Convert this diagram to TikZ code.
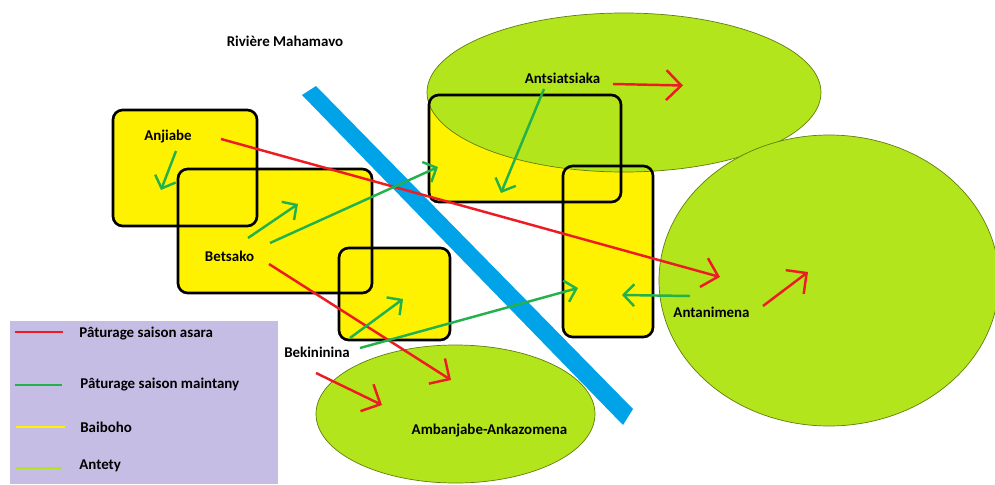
\documentclass[tikz,border=0pt]{standalone}
\usepackage{fontspec}
\setmainfont{Carlito}
\usepackage{tikz}
\usetikzlibrary{arrows.meta}

\definecolor{antety}{HTML}{B2E51B}
\definecolor{baiboho}{HTML}{FFF200}
\definecolor{riviere}{HTML}{00A2E8}
\definecolor{asara}{HTML}{ED1C24}
\definecolor{maintany}{HTML}{22B14C}
\definecolor{legende}{HTML}{C5BDE4}

\begin{document}
\begin{tikzpicture}[x=0.02cm,y=-0.02cm,
    every node/.style={font=\fontsize{8.5}{10}\selectfont\bfseries,text=black,inner sep=0pt}]

      \clip (0,0) rectangle (995,484);

      % river, then the baiboho fills, then the antety ellipses
      \fill[riviere] (302,95) -- (316,86) -- (633,409) -- (623,425) -- cycle;

      \foreach \xa/\ya/\xb/\yb in {113/110/257/226, 178/169/372/293, 339/248/450/340,
          429/95/621/202, 563/166/653/337}
        \fill[baiboho,rounded corners=5.5pt] (\xa,\ya) rectangle (\xb,\yb);

      \begin{scope}[every path/.style={fill=antety,draw=black!45!antety,line width=0.4pt}]
        \path (624,92.5) ellipse [x radius=197, y radius=79.5];
        \path (829,280.5) ellipse [x radius=170, y radius=145.5];
        \path (455.5,414) ellipse [x radius=139.5, y radius=69];
      \end{scope}

      \foreach \xa/\ya/\xb/\yb in {113/110/257/226, 178/169/372/293, 339/248/450/340,
          429/95/621/202, 563/166/653/337}
        \draw[black,line width=1.5pt,rounded corners=5.5pt] (\xa,\ya) rectangle (\xb,\yb);

      % legend
      \fill[legende] (10,321) rectangle (278,484);
      \node[anchor=west] (lasara) at (79,334) {Pâturage saison asara};
      \node[anchor=west] (lmaintany) at (80,384.5) {Pâturage saison maintany};
      \node[anchor=west] (lbaiboho) at (80,427) {Baiboho};
      \node[anchor=west] (lantety) at (79,466) {Antety};

      \coordinate (la1) at (15,332);   \coordinate (la2) at (63,332);
      \coordinate (lm1) at (15,385);   \coordinate (lm2) at (62,385);
      \coordinate (lb1) at (16,427);   \coordinate (lb2) at (65,427);
      \coordinate (ln1) at (16,468);   \coordinate (ln2) at (62,468);
      \draw[asara,line width=1.5pt] (la1) -- (la2);
      \draw[maintany,line width=1.5pt] (lm1) -- (lm2);
      \draw[baiboho,line width=1.5pt] (lb1) -- (lb2);
      \draw[antety,line width=1.5pt] (ln1) -- (ln2);

      % places
      \node (mahamavo) at (285,41) {Rivière Mahamavo};
      \node (anjiabe) at (168,137) {Anjiabe};
      \node (betsako) at (229.5,256) {Betsako};
      \node (bekininina) at (317,352) {Bekininina};
      \node (antsiatsiaka) at (562.5,78) {Antsiatsiaka};
      \node (antanimena) at (711.5,312.5) {Antanimena};
      \node (ambanjabe) at (489.5,431) {Ambanjabe-Ankazomena};

      % free ends of the arrows
      \coordinate (ar1) at (221,139);  \coordinate (ar2) at (720,277);
      \coordinate (ar3) at (269,264);  \coordinate (ar4) at (451,380);
      \coordinate (ar5) at (316,373);  \coordinate (ar6) at (382,405);
      \coordinate (ar7) at (613,84);   \coordinate (ar8) at (683,85.5);
      \coordinate (ar9) at (763,306);  \coordinate (ar10) at (808,272);

      \coordinate (mt1) at (176,151);  \coordinate (mt2) at (161,190);
      \coordinate (mt3) at (248,238);  \coordinate (mt4) at (298,204);
      \coordinate (mt5) at (270,243);  \coordinate (mt6) at (438,167);
      \coordinate (mt7) at (350,338);  \coordinate (mt8) at (403,299);
      \coordinate (mt9) at (360,348);  \coordinate (mt10) at (578,288);
      \coordinate (mt11) at (544,89);  \coordinate (mt12) at (501,193);
      \coordinate (mt13) at (690,296); \coordinate (mt14) at (622,295);

      \begin{scope}[>={Straight Barb[asara,length=8.5pt,width=17pt]},
          every edge/.style={draw=asara,line width=1.4pt}]
        \path [->] (ar1) edge (ar2);
        \path [->] (ar3) edge (ar4);
        \path [->] (ar5) edge (ar6);
        \path [->] (ar7) edge (ar8);
        \path [->] (ar9) edge (ar10);
      \end{scope}

      \begin{scope}[>={Straight Barb[maintany,length=6pt,width=12.5pt]},
          every edge/.style={draw=maintany,line width=1.4pt}]
        \path [->] (mt1) edge (mt2);
        \path [->] (mt3) edge (mt4);
        \path [->] (mt5) edge (mt6);
        \path [->] (mt7) edge (mt8);
        \path [->] (mt9) edge (mt10);
        \path [->] (mt11) edge (mt12);
        \path [->] (mt13) edge (mt14);
      \end{scope}
    \end{tikzpicture}
\end{document}
